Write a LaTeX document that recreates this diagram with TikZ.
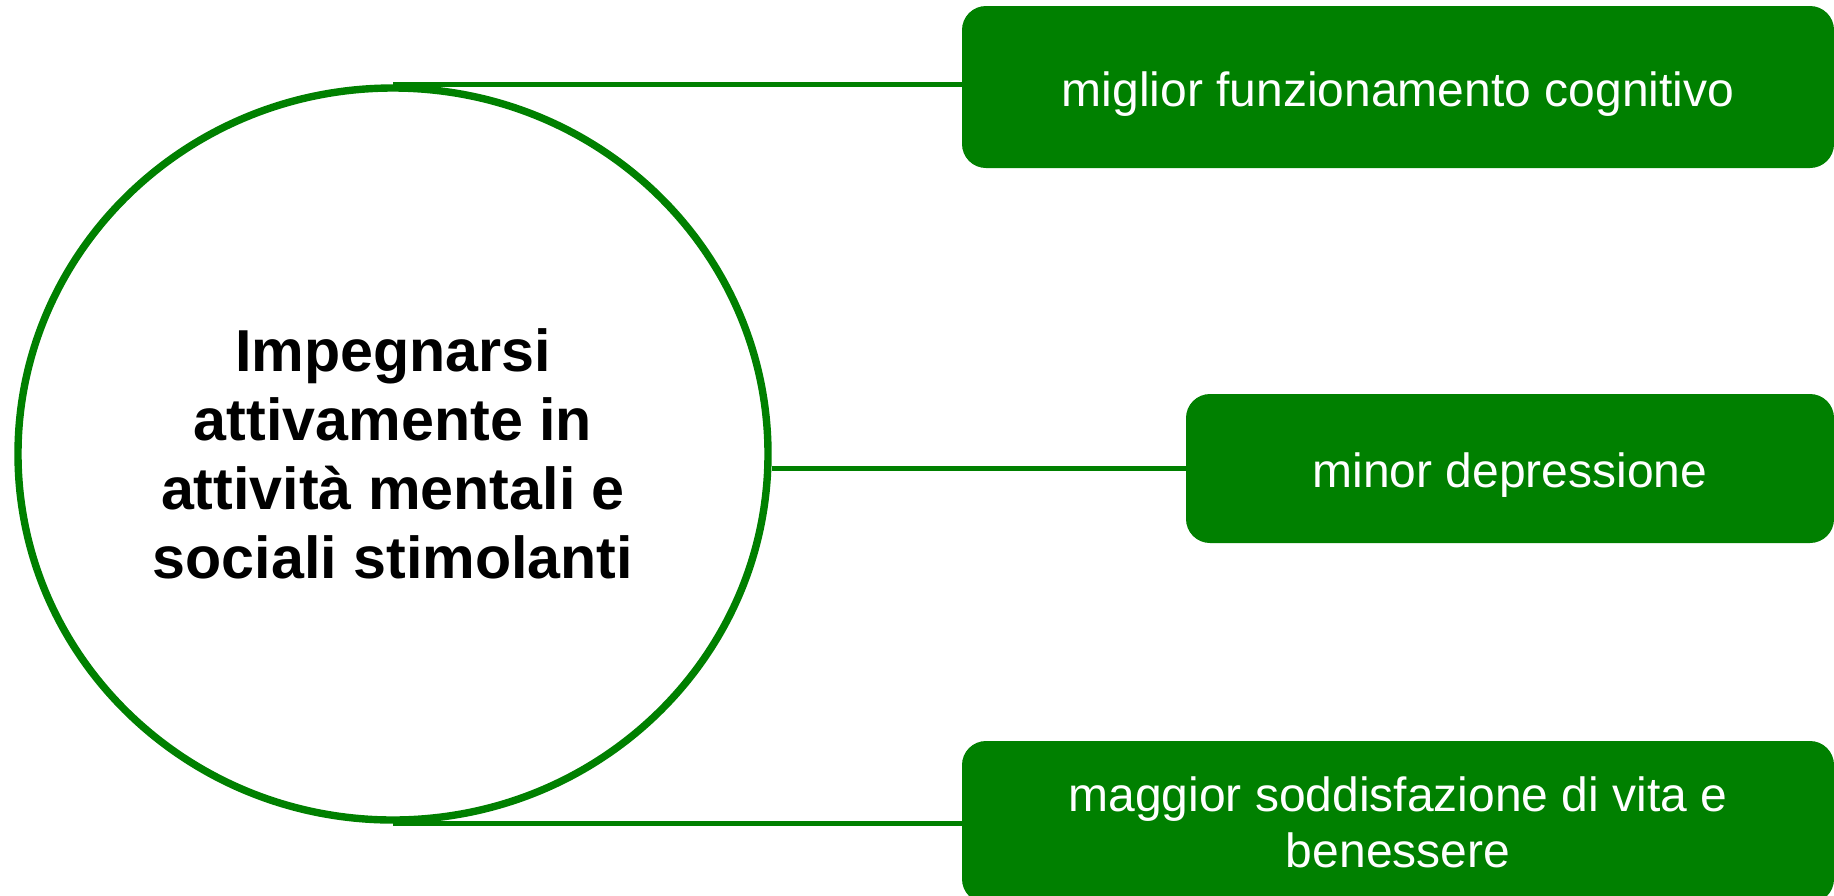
\documentclass[tikz,border=0pt]{standalone}
\usepackage{fontspec}
\setmainfont{Liberation Sans}
\usetikzlibrary{shapes.geometric, calc}
\definecolor{verde}{RGB}{0,128,0}

\begin{document}
\begin{tikzpicture}[x=0.5pt, y=-0.5pt,
	esito/.style={rectangle, rounded corners=12pt, fill=verde, text=white, align=center, font=\fontsize{24pt}{28pt}\selectfont},
	linea/.style={draw=verde, line width=2.4pt}]
	\useasboundingbox (0,0) rectangle (1834,895);
	\node[ellipse, draw=verde, line width=3.7pt, minimum width=375pt, minimum height=366pt, align=center, font=\fontsize{29.6pt}{34.4pt}\selectfont\bfseries] (C) at (393,454) {Impegnarsi\\attivamente in\\attività mentali e\\sociali stimolanti};
	\node[esito, minimum width=436pt, minimum height=81pt, text height=24pt, text depth=5pt] (E1) at (1398,87) {miglior funzionamento cognitivo};
	\node[esito, minimum width=324pt, minimum height=74.5pt, text height=24pt, text depth=5pt] (E2) at (1510,468.5) {minor depressione};
	\node[esito, minimum width=436pt, minimum height=81pt] (E3) at (1398,822) {maggior soddisfazione di vita e\\benessere};
	\draw[linea] (C.north) -- (C.north -| E1.west);
	\draw[linea] (C.east |- E2.west) -- (E2.west);
	\draw[linea] (C.south) -- (C.south -| E3.west);
\end{tikzpicture}
\end{document}
